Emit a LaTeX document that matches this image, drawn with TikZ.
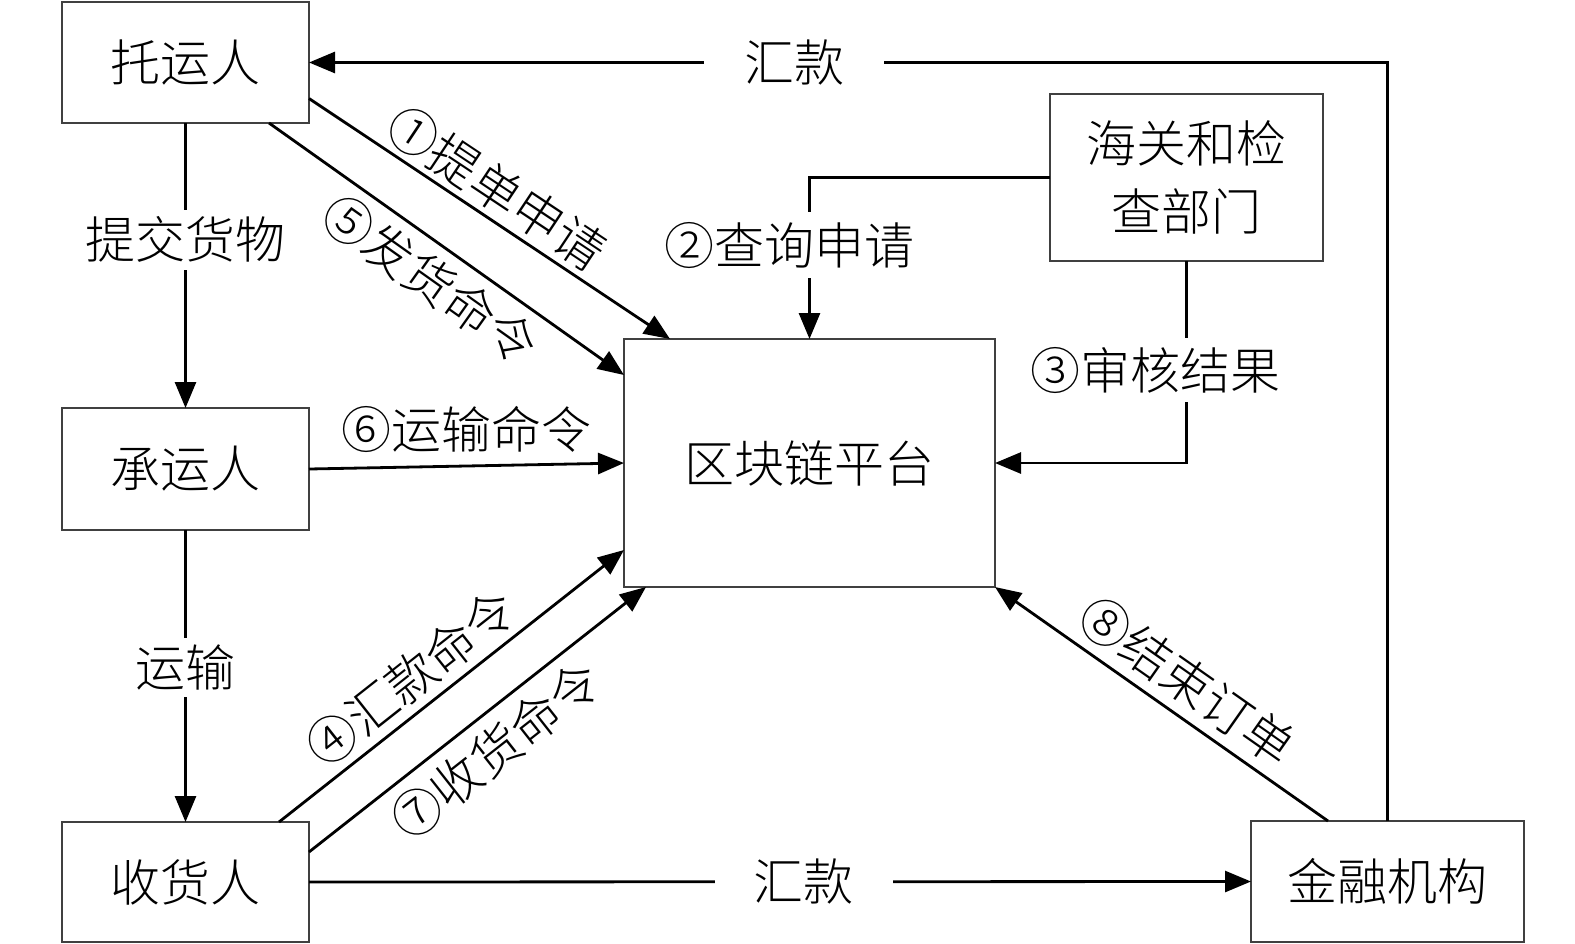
\documentclass[tikz,border=0pt]{standalone}
\usepackage{fontspec}
\setmainfont{Noto Sans CJK SC}[UprightFont={* Light}]
\usetikzlibrary{arrows.meta,calc}
\newcommand\lblfont{\fontsize{50}{68}\selectfont}
\begin{document}
\begin{tikzpicture}[x=1pt,y=-1pt,
  box/.style={draw=black!75, line width=1.5pt, inner sep=0pt, outer sep=0pt,
              font=\lblfont, align=center},
  conn/.style={line width=2.8pt, -{Triangle[length=26pt,width=21pt]}},
  gap/.style={fill=white, inner xsep=2pt, inner ysep=7pt, font=\lblfont},
  tilt/.style={sloped, inner sep=2pt, font=\lblfont}]
\useasboundingbox (0,0) rectangle (1575,943);
% boxes
\node[box, minimum width=247pt, minimum height=121pt] (ty) at (185.5,62.5) {托运人};
\node[box, minimum width=247pt, minimum height=122pt] (cy) at (185.5,469) {承运人};
\node[box, minimum width=247pt, minimum height=120pt] (sh) at (185.5,882) {收货人};
\node[box, minimum width=371pt, minimum height=248pt] (qk) at (809.5,463) {区块链平台};
\node[box, minimum width=273pt, minimum height=167pt] (hg) at (1186.5,177.5) {海关和检\\查部门};
\node[box, minimum width=273pt, minimum height=121pt] (jr) at (1387.5,881.5) {金融机构};
% connectors
\draw[conn] (jr.north) |- node[gap, pos=0.775, inner xsep=40pt] {汇款} (ty.east);
\draw[conn] (sh.east) -- node[gap, pos=0.525, inner xsep=39pt] {汇款} (jr.west);
\draw[conn] (ty.south) -- node[gap, pos=0.41] {提交货物} (cy.north);
\draw[conn] (cy.south) -- node[gap, pos=0.47] {运输} (sh.north);
\draw[conn] (hg.west) -| node[gap, pos=0.71, xshift=-20pt, inner ysep=10pt] {②查询申请} (qk.north);
\draw[conn] (hg.south) |- node[gap, pos=0.27, xshift=-31pt, inner ysep=9pt] {③审核结果} (qk.east);
\draw[conn] (cy.east) -- node[above=10pt, font=\lblfont, inner sep=2pt] {⑥运输命令} (qk.west);
\draw[conn] ($(ty.east)+(0,36)$) -- node[tilt, above=3pt, pos=0.475] {①提单申请} ($(qk.north west)+(46,0)$);
\draw[conn] ($(ty.south east)+(-40,0)$) -- node[tilt, below=8pt, pos=0.51] {⑤发货命令} ($(qk.north west)+(0,36)$);
\draw[conn] ($(sh.north east)+(-30,0)$) -- node[tilt, above=5pt, pos=0.44] {④汇款命令} ($(qk.south west)+(0,-37)$);
\draw[conn] ($(sh.north east)+(0,30)$) -- node[tilt, below=9pt, pos=0.49] {⑦收货命令} ($(qk.south west)+(22,0)$);
\draw[conn] ($(jr.north west)+(77,0)$) -- node[tilt, above=7pt, pos=0.48] {⑧结束订单} (qk.south east);
\end{tikzpicture}
\end{document}
